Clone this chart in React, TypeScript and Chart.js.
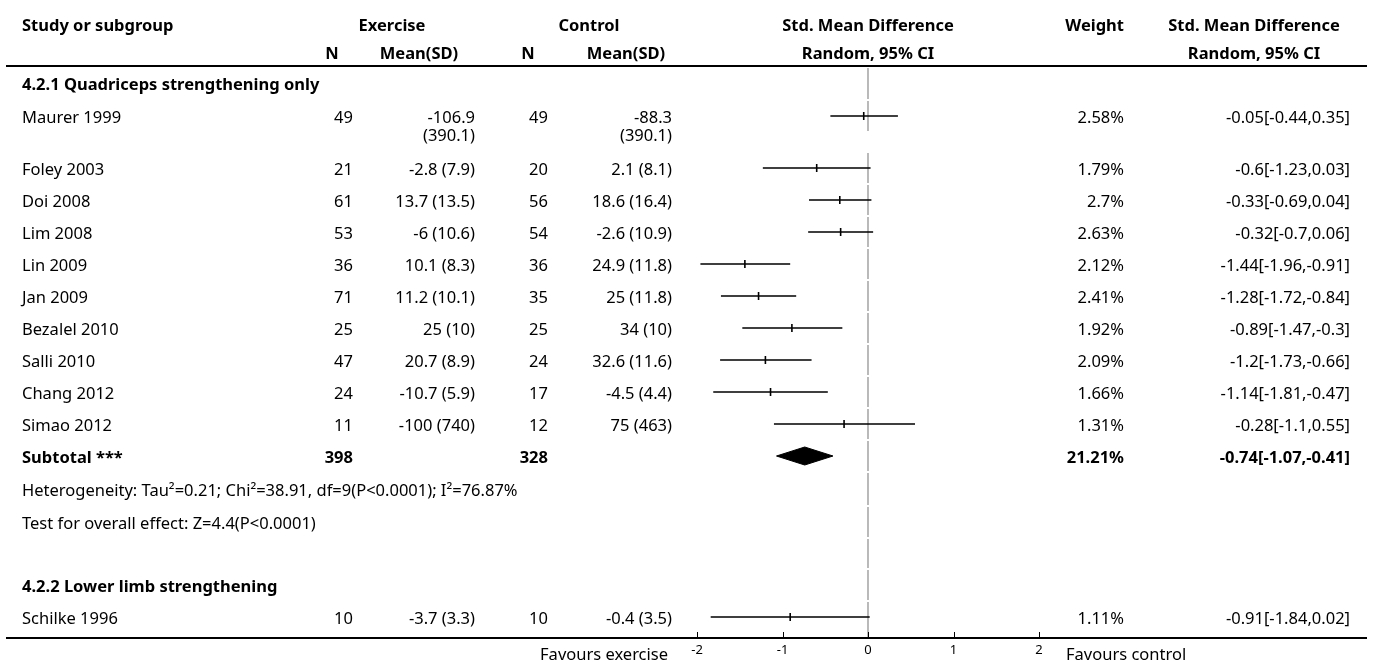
import React, { useEffect, useRef } from "react";
import { Chart, registerables } from "chart.js";

Chart.register(...registerables);

const FONT_FAMILY = "'Noto Sans', Roboto, Arial, sans-serif";
const TEXT_SIZE = 16.5;
const TICK_SIZE = 13;

// Individual studies, top to bottom
const studyNames = [
  "Maurer 1999", "Foley 2003", "Doi 2008", "Lim 2008", "Lin 2009", "Jan 2009",
  "Bezalel 2010", "Salli 2010", "Chang 2012", "Simao 2012", "Schilke 1996",
];
const studyGroup = [0, 0, 0, 0, 0, 0, 0, 0, 0, 0, 1];
const groupTitles = ["4.2.1 Quadriceps strengthening only", "4.2.2 Lower limb strengthening"];

const exerciseN = [49, 21, 61, 53, 36, 71, 25, 47, 24, 11, 10];
const exerciseMean = [-106.9, -2.8, 13.7, -6, 10.1, 11.2, 25, 20.7, -10.7, -100, -3.7];
const exerciseSD = [390.1, 7.9, 13.5, 10.6, 8.3, 10.1, 10, 8.9, 5.9, 740, 3.3];
const controlN = [49, 20, 56, 54, 36, 35, 25, 24, 17, 12, 10];
const controlMean = [-88.3, 2.1, 18.6, -2.6, 24.9, 25, 34, 32.6, -4.5, 75, -0.4];
const controlSD = [390.1, 8.1, 16.4, 10.9, 11.8, 11.8, 10, 11.6, 4.4, 463, 3.5];
const weights = [2.58, 1.79, 2.7, 2.63, 2.12, 2.41, 1.92, 2.09, 1.66, 1.31, 1.11];
const smd = [-0.05, -0.6, -0.33, -0.32, -1.44, -1.28, -0.89, -1.2, -1.14, -0.28, -0.91];
const ciLower = [-0.44, -1.23, -0.69, -0.7, -1.96, -1.72, -1.47, -1.73, -1.81, -1.1, -1.84];
const ciUpper = [0.35, 0.03, 0.04, 0.06, -0.91, -0.84, -0.3, -0.66, -0.47, 0.55, 0.02];

// Pooled result for subgroup 4.2.1
const subtotalLabel = "Subtotal ***";
const subtotalExerciseN = 398;
const subtotalControlN = 328;
const subtotalWeight = 21.21;
const subtotalSmd = -0.74;
const subtotalLower = -1.07;
const subtotalUpper = -0.41;
const heterogeneityNote = "Heterogeneity: Tau\u00b2=0.21; Chi\u00b2=38.91, df=9(P<0.0001); I\u00b2=76.87%";
const overallEffectNote = "Test for overall effect: Z=4.4(P<0.0001)";

const axisTicks = [-2, -1, 0, 1, 2];
const favoursLeftLabel = "Favours exercise";
const favoursRightLabel = "Favours control";

// Page geometry
const WIDTH = 1375;
const HEIGHT = 666;
const TABLE_TOP = 66;
const AXIS_Y = 638;
const SLOT = 32;
const WRAP_EXTRA = 20;
const WRAP_LINE = 18;
const MEAN_COL_WIDTH = 88;
const TEXT_NUDGE = 2;

const COL = {
  study: 22,
  exN: 353,
  exMean: 475,
  ctN: 548,
  ctMean: 672,
  weight: 1124,
  ci: 1350,
  ciHead: 1254,
  exHead: 392,
  ctHead: 589,
  exNHead: 332,
  exMeanHead: 419,
  ctNHead: 528,
  ctMeanHead: 626,
};

type RowKind = "title" | "study" | "subtotal" | "note" | "blank";
interface Row {
  kind: RowKind;
  top: number;
  height: number;
  center: number;
  text?: string;
  study?: number;
  exLines?: string[];
  ctLines?: string[];
}

const regular = `${TEXT_SIZE}px ${FONT_FAMILY}`;
const bold = `bold ${TEXT_SIZE}px ${FONT_FAMILY}`;

function meanSd(m: number, sd: number): string {
  return `${m} (${sd})`;
}
function ciText(est: number, lo: number, hi: number): string {
  return `${est}[${lo},${hi}]`;
}

function wrapCell(ctx: CanvasRenderingContext2D, text: string, maxWidth: number): string[] {
  ctx.font = regular;
  if (ctx.measureText(text).width <= maxWidth) return [text];
  const words = text.split(" ");
  const lines: string[] = [];
  let cur = "";
  for (const w of words) {
    const next = cur ? cur + " " + w : w;
    if (cur && ctx.measureText(next).width > maxWidth) {
      lines.push(cur);
      cur = w;
    } else {
      cur = next;
    }
  }
  if (cur) lines.push(cur);
  return lines;
}

function buildRows(ctx: CanvasRenderingContext2D): Row[] {
  const rows: Row[] = [];
  let cursor = 1;
  const add = (r: Partial<Row> & { kind: RowKind }, height: number, multi = false) => {
    rows.push({ ...r, top: cursor, height, center: cursor + (multi ? SLOT / 2 : height / 2) } as Row);
    cursor += height;
  };
  const addStudy = (i: number) => {
    const exLines = wrapCell(ctx, meanSd(exerciseMean[i], exerciseSD[i]), MEAN_COL_WIDTH);
    const ctLines = wrapCell(ctx, meanSd(controlMean[i], controlSD[i]), MEAN_COL_WIDTH);
    const n = Math.max(exLines.length, ctLines.length);
    add({ kind: "study", study: i, exLines, ctLines }, SLOT + (n - 1) * WRAP_EXTRA, true);
  };
  add({ kind: "title", text: groupTitles[0] }, 33);
  studyNames.forEach((_, i) => { if (studyGroup[i] === 0) addStudy(i); });
  add({ kind: "subtotal" }, 32);
  add({ kind: "note", text: heterogeneityNote }, 34);
  add({ kind: "note", text: overallEffectNote }, 32);
  add({ kind: "blank" }, 31);
  add({ kind: "title", text: groupTitles[1] }, 32);
  studyNames.forEach((_, i) => { if (studyGroup[i] === 1) addStudy(i); });
  return rows;
}

export default function App() {
  const canvasRef = useRef<HTMLCanvasElement | null>(null);

  useEffect(() => {
    document.body.style.margin = "0";
    const canvas = canvasRef.current;
    if (!canvas) return;
    const measureCtx = canvas.getContext("2d") as CanvasRenderingContext2D;
    const rows = buildRows(measureCtx);
    const yMax = AXIS_Y - TABLE_TOP;
    const studyRows = rows.filter((r) => r.kind === "study");
    const subtotalRow = rows.find((r) => r.kind === "subtotal") as Row;

    // Vertical line of no effect, broken at each row boundary
    const zeroLine: { x: number; y: number }[] = [];
    rows.forEach((r, k) => {
      const span = r.kind === "study" ? SLOT : r.height;
      const end = k === rows.length - 1 ? yMax : r.top + span - 1;
      zeroLine.push({ x: 0, y: r.top + 1 }, { x: 0, y: end }, { x: NaN, y: NaN });
    });

    // Confidence interval whiskers
    const ciSegments: { x: number; y: number }[] = [];
    studyRows.forEach((r) => {
      const i = r.study as number;
      ciSegments.push({ x: ciLower[i], y: r.center }, { x: ciUpper[i], y: r.center }, { x: NaN, y: NaN });
    });

    const estimates = studyRows.map((r) => ({ x: smd[r.study as number], y: r.center }));

    const dc = subtotalRow.center;
    const diamond = [
      { x: subtotalLower, y: dc },
      { x: subtotalSmd, y: dc - 9 },
      { x: subtotalUpper, y: dc },
      { x: subtotalSmd, y: dc + 9 },
      { x: subtotalLower, y: dc },
    ];

    const tablePlugin = {
      id: "forestTable",
      afterDraw(chart: Chart) {
        const ctx = chart.ctx;
        const xs = chart.scales.x;
        const ys = chart.scales.y;
        ctx.save();
        ctx.fillStyle = "#000";
        ctx.fillRect(6, 65, 1361, 2);
        ctx.fillRect(6, AXIS_Y - 1, 1361, 2);

        // upward tick marks on the effect axis
        ctx.strokeStyle = "#000";
        ctx.lineWidth = 1;
        axisTicks.forEach((v) => {
          const px = Math.round(xs.getPixelForValue(v)) + 0.5;
          ctx.beginPath();
          ctx.moveTo(px, AXIS_Y - 6);
          ctx.lineTo(px, AXIS_Y - 1);
          ctx.stroke();
        });

        const put = (t: string, x: number, y: number, align: CanvasTextAlign, font: string) => {
          ctx.font = font;
          ctx.textAlign = align;
          ctx.textBaseline = "middle";
          ctx.fillStyle = "#000";
          ctx.fillText(t, x, y + TEXT_NUDGE);
        };

        // column headings
        put("Study or subgroup", COL.study, 24, "left", bold);
        put("Exercise", COL.exHead, 24, "center", bold);
        put("Control", COL.ctHead, 24, "center", bold);
        const plotMid = xs.getPixelForValue(0);
        put("Std. Mean Difference", plotMid, 24, "center", bold);
        put("Weight", COL.weight, 24, "right", bold);
        put("Std. Mean Difference", COL.ciHead, 24, "center", bold);
        put("N", COL.exNHead, 52, "center", bold);
        put("Mean(SD)", COL.exMeanHead, 52, "center", bold);
        put("N", COL.ctNHead, 52, "center", bold);
        put("Mean(SD)", COL.ctMeanHead, 52, "center", bold);
        put("Random, 95% CI", plotMid, 52, "center", bold);
        put("Random, 95% CI", COL.ciHead, 52, "center", bold);

        rows.forEach((r) => {
          const cy = ys.getPixelForValue(r.center);
          if (r.kind === "title") {
            put(r.text as string, COL.study, cy, "left", bold);
          } else if (r.kind === "note") {
            put(r.text as string, COL.study, cy, "left", regular);
          } else if (r.kind === "subtotal") {
            put(subtotalLabel, COL.study, cy, "left", bold);
            put(String(subtotalExerciseN), COL.exN, cy, "right", bold);
            put(String(subtotalControlN), COL.ctN, cy, "right", bold);
            put(`${subtotalWeight}%`, COL.weight, cy, "right", bold);
            put(ciText(subtotalSmd, subtotalLower, subtotalUpper), COL.ci, cy, "right", bold);
          } else if (r.kind === "study") {
            const i = r.study as number;
            put(studyNames[i], COL.study, cy, "left", regular);
            put(String(exerciseN[i]), COL.exN, cy, "right", regular);
            (r.exLines as string[]).forEach((l, k) => put(l, COL.exMean, cy + k * WRAP_LINE, "right", regular));
            put(String(controlN[i]), COL.ctN, cy, "right", regular);
            (r.ctLines as string[]).forEach((l, k) => put(l, COL.ctMean, cy + k * WRAP_LINE, "right", regular));
            put(`${weights[i]}%`, COL.weight, cy, "right", regular);
            put(ciText(smd[i], ciLower[i], ciUpper[i]), COL.ci, cy, "right", regular);
          }
        });

        put(favoursLeftLabel, xs.getPixelForValue(axisTicks[0]) - 29, 653, "right", regular);
        put(favoursRightLabel, xs.getPixelForValue(axisTicks[axisTicks.length - 1]) + 27, 653, "left", regular);
        ctx.restore();
      },
    };

    const chart = new Chart(canvas, {
      type: "scatter",
      data: {
        datasets: [
          {
            label: "ci",
            data: ciSegments,
            showLine: true,
            spanGaps: false,
            borderColor: "#000",
            borderWidth: 1.6,
            pointRadius: 0,
            tension: 0,
            clip: false,
            order: 1,
          },
          {
            label: "estimate",
            data: estimates,
            pointStyle: "line",
            pointRotation: 90,
            pointRadius: 4,
            borderColor: "#000",
            pointBorderColor: "#000",
            borderWidth: 1.6,
            pointBorderWidth: 1.6,
            clip: false,
            order: 0,
          },
          {
            label: "pooled",
            data: diamond,
            showLine: true,
            fill: "shape",
            backgroundColor: "#000",
            borderColor: "#000",
            borderWidth: 1,
            pointRadius: 0,
            tension: 0,
            clip: false,
            order: 0,
          },
          {
            label: "no effect",
            data: zeroLine,
            showLine: true,
            spanGaps: false,
            borderColor: "#8c8c8c",
            borderWidth: 1.2,
            pointRadius: 0,
            tension: 0,
            clip: false,
            order: 10,
          },
        ] as any,
      },
      options: {
        animation: false,
        responsive: false,
        maintainAspectRatio: false,
        events: [],
        layout: { padding: { left: 697, right: 336, top: TABLE_TOP, bottom: 0 } },
        plugins: { legend: { display: false }, tooltip: { enabled: false } },
        scales: {
          x: {
            type: "linear",
            min: axisTicks[0],
            max: axisTicks[axisTicks.length - 1],
            grid: { display: false, drawTicks: false },
            border: { display: false },
            ticks: {
              font: { family: FONT_FAMILY, size: TICK_SIZE },
              color: "#000",
              padding: 4,
              maxRotation: 0,
              autoSkip: false,
            },
            afterBuildTicks: (s: any) => {
              s.ticks = axisTicks.map((v) => ({ value: v }));
            },
            afterFit: (s: any) => {
              s.height = HEIGHT - AXIS_Y;
            },
          },
          y: {
            type: "linear",
            display: false,
            reverse: true,
            min: 0,
            max: yMax,
          },
        },
      },
      plugins: [tablePlugin],
    });

    return () => chart.destroy();
  }, []);

  return <canvas ref={canvasRef} width={WIDTH} height={HEIGHT} style={{ display: "block" }} />;
}
